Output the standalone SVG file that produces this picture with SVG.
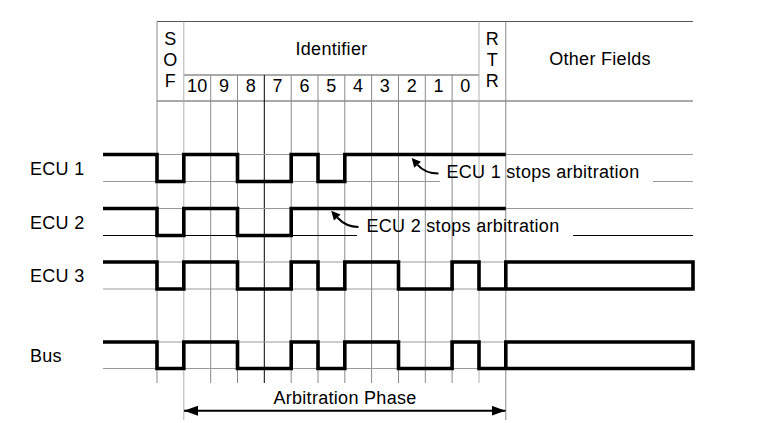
<svg xmlns="http://www.w3.org/2000/svg" width="758" height="423" viewBox="0 0 758 423">
<style>
text{font-family:"Liberation Sans",Arial,sans-serif;font-size:18px;letter-spacing:0.3px;fill:#000}
.c{text-anchor:middle}
.hdr{stroke:#555;stroke-width:1;fill:none}
.v{stroke:#8a8a8a;stroke-width:1}
.vl{stroke:#b0b0b0;stroke-width:1}
.vd{stroke:#000;stroke-width:1}
.h{stroke:#9a9a9a;stroke-width:1}
.sig{fill:none;stroke:#000;stroke-width:3.6;stroke-linejoin:miter}
.arr{fill:none;stroke:#000;stroke-width:2}
</style>
<defs>
<marker id="ah" markerUnits="userSpaceOnUse" viewBox="0 0 10 10" refX="0" refY="5" markerWidth="10" markerHeight="9" orient="auto">
<path d="M0,0 L10,5 L0,10 z" fill="#000"/>
</marker>
<marker id="ah2" markerUnits="userSpaceOnUse" viewBox="0 0 14 10" refX="14" refY="5" markerWidth="14" markerHeight="10" orient="auto-start-reverse">
<path d="M0,0 L14,5 L0,10 z" fill="#000"/>
</marker>
</defs>

<g id="header">
<path class="hdr" d="M157,21.5 H693 M183.8,75 H479 M157,101 H693"/>
<text x="170.4" y="44.5" class="c">S</text>
<text x="170.4" y="65.5" class="c">O</text>
<text x="170.4" y="87" class="c">F</text>
<text x="331.5" y="54.5" class="c">Identifier</text>
<text x="492.4" y="44.5" class="c">R</text>
<text x="492.4" y="65.5" class="c">T</text>
<text x="492.4" y="87" class="c">R</text>
<text x="600" y="65" class="c">Other Fields</text>
<text x="197.2" y="92" class="c">10</text>
<text x="224.1" y="92" class="c">9</text>
<text x="250.9" y="92" class="c">8</text>
<text x="277.7" y="92" class="c">7</text>
<text x="304.6" y="92" class="c">6</text>
<text x="331.4" y="92" class="c">5</text>
<text x="358.2" y="92" class="c">4</text>
<text x="385" y="92" class="c">3</text>
<text x="411.9" y="92" class="c">2</text>
<text x="438.7" y="92" class="c">1</text>
<text x="465.5" y="92" class="c">0</text>
</g>

<g id="grid">
<line class="v" x1="157" y1="21.5" x2="157" y2="383"/>
<line class="vl" x1="183.8" y1="21.5" x2="183.8" y2="420"/>
<line class="v" x1="210.7" y1="75" x2="210.7" y2="383"/>
<line class="v" x1="237.5" y1="75" x2="237.5" y2="383"/>
<line class="vd" x1="264.3" y1="75" x2="264.3" y2="383"/>
<line class="v" x1="291.2" y1="75" x2="291.2" y2="383"/>
<line class="v" x1="318" y1="75" x2="318" y2="383"/>
<line class="v" x1="344.8" y1="75" x2="344.8" y2="383"/>
<line class="v" x1="371.6" y1="75" x2="371.6" y2="383"/>
<line class="v" x1="398.5" y1="75" x2="398.5" y2="383"/>
<line class="v" x1="425.3" y1="75" x2="425.3" y2="383"/>
<line class="v" x1="452.1" y1="75" x2="452.1" y2="383"/>
<line class="vl" x1="479" y1="21.5" x2="479" y2="383"/>
<line class="v" x1="505.8" y1="21.5" x2="505.8" y2="420"/>
<path class="h" d="M103,154.5 H693 M103,181.5 H440 M653,181.5 H693 M103,208.5 H693 M103,262 H693 M103,289 H693 M103,342 H693 M103,368.5 H693"/>
<path stroke="#000" stroke-width="1" fill="none" d="M103,235.5 H357 M573,235.5 H693"/>
</g>

<g id="ecu1">
<text x="30" y="174.5">ECU 1</text>
<path class="sig" d="M103,154.5 H157 V181.5 H183.8 V154.5 H237.5 V181.5 H291.2 V154.5 H318 V181.5 H344.8 V154.5 H505.8"/>
</g>
<g id="ecu2">
<text x="30" y="229">ECU 2</text>
<path class="sig" d="M103,208.5 H157 V235.5 H183.8 V208.5 H237.5 V235.5 H291.2 V208.5 H505.8"/>
</g>
<g id="ecu3">
<text x="30" y="282">ECU 3</text>
<path class="sig" d="M103,262 H157 V289 H183.8 V262 H237.5 V289 H291.2 V262 H318 V289 H344.8 V262 H398.5 V289 H452.1 V262 H479 V289 H505.8 V262 H693 V289 H505.8"/>
</g>
<g id="bus">
<text x="30" y="362">Bus</text>
<path class="sig" d="M103,342 H157 V368.5 H183.8 V342 H237.5 V368.5 H291.2 V342 H318 V368.5 H344.8 V342 H398.5 V368.5 H452.1 V342 H479 V368.5 H505.8 V342 H693 V368.5 H505.8"/>
</g>

<g id="connectors">
<path class="arr" d="M438.5,173.5 C429,173.5 423,171 417.6,164.8" marker-end="url(#ah)"/>
<path class="arr" d="M358.5,227 C349,227 343,223.7 337.3,217.5" marker-end="url(#ah)"/>
<line class="arr" x1="184" y1="410.7" x2="505.5" y2="410.7" marker-start="url(#ah2)" marker-end="url(#ah2)"/>
</g>

<g id="labels">
<text x="446.5" y="177.5">ECU 1 stops arbitration</text>
<text x="366.5" y="231.5">ECU 2 stops arbitration</text>
<text x="345" y="403.5" class="c">Arbitration Phase</text>
</g>
</svg>
